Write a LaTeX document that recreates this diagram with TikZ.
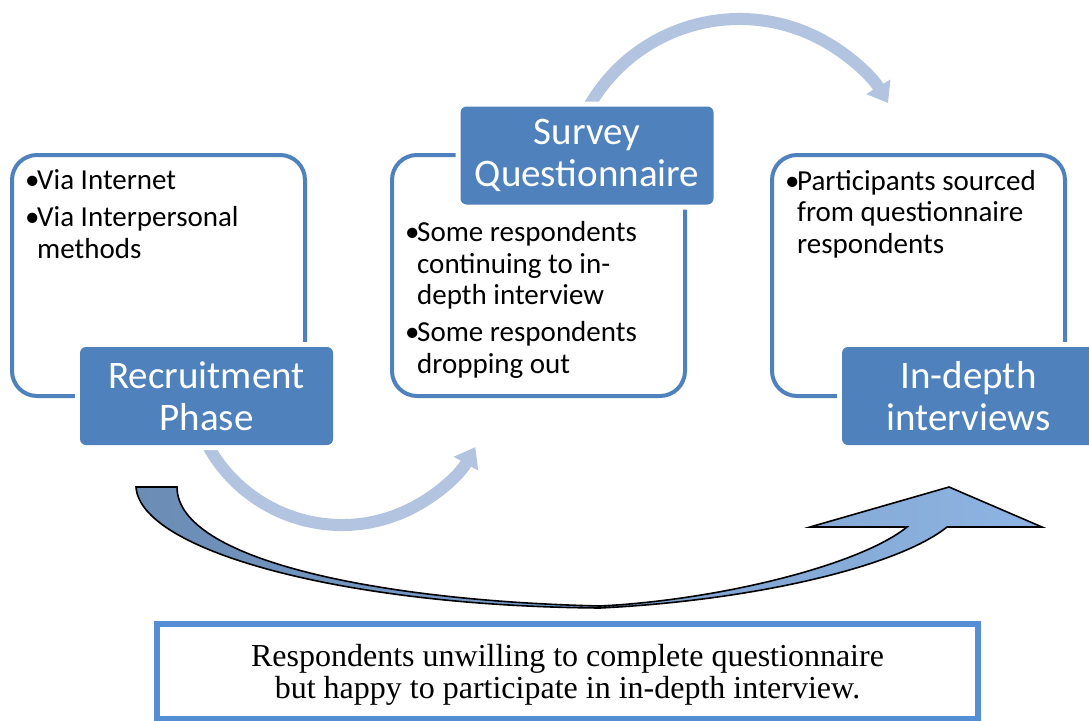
\documentclass[tikz,border=0pt]{standalone}
\usepackage{fontspec}
\setmainfont{Carlito}
\newfontfamily\serifbody{Liberation Serif}
\usetikzlibrary{arrows.meta,calc}

\definecolor{phaseblue}{RGB}{79,129,189}
\definecolor{flowblue}{RGB}{178,196,223}
\definecolor{noteblue}{RGB}{85,142,213}
\definecolor{swoopdark}{RGB}{106,140,181}
\definecolor{swooplight}{RGB}{142,180,227}

\newcommand{\bulmark}{\makebox[12pt][l]{•}}
\newcommand{\bulindent}{\hspace*{12pt}}

\tikzset{
  outlinebox/.style={draw=phaseblue, line width=4pt, rounded corners=25pt},
  phaselabel/.style={fill=phaseblue, rounded corners=6pt, inner sep=0pt,
    minimum width=253pt, minimum height=98pt, text=white, align=center,
    font=\fontsize{39}{42}\selectfont,
    preaction={draw=white, line width=10pt}},
  % anchored on the baseline of the last line
  bodytext/.style={align=left, inner sep=0pt, anchor=base west,
    font=\fontsize{29}{31.5}\selectfont},
  flowarrow/.style={draw=flowblue, line width=12pt,
    -{Triangle[length=19pt,width=27pt]}},
  swoop/.style={draw=black, line width=1.6pt, line join=miter,
    left color=swoopdark, right color=swooplight, shading angle=90},
  notebox/.style={draw=noteblue, line width=6pt, fill=white, inner sep=0pt,
    minimum width=821pt, minimum height=95pt, align=center,
    font=\serifbody\fontsize{32}{32.5}\selectfont}
}

\begin{document}
\begin{tikzpicture}[x=1pt,y=-1pt]
\useasboundingbox (0,0) rectangle (1089,720);

% curved flow arrows between the phases
\coordinate (lowcenter) at (342,372);
\coordinate (highcenter) at (739.5,192.3);
\draw[flowarrow] ($(lowcenter)+(155:153)$) arc[start angle=155, end angle=29.4, radius=153];
\draw[flowarrow] ($(highcenter)+(208:173.3)$) arc[start angle=208, end angle=329, radius=173.3];

% long swooping arrow from recruitment to interviews
\path[swoop] (136,487) -- (177,487)
  .. controls (177,560) and (380,601) .. (600,606)
  .. controls (720,600) and (860,565) .. (907,527)
  -- (810,527) -- (949,487) -- (1042,527) -- (947,527)
  .. controls (900,565) and (760,600) .. (600,608)
  .. controls (340,606) and (140,550) .. (136,487) -- cycle;

% rounded outline boxes
\draw[outlinebox] (12,155) rectangle (305,396);
\draw[outlinebox] (392,155) rectangle (685,396);
\draw[outlinebox] (772,155) rectangle (1065,396);

% phase labels
\node[phaselabel] (recruit) at (206.5,396) {Recruitment\\Phase};
\node[phaselabel] (survey) at (587,155.5) {Survey\\Questionnaire};
\node[phaselabel] (interview) at (968.5,396) {In-depth\\interviews};

% bullet texts
\node[bodytext] (recruittext) at (25,258)
  {\bulmark Via Internet\\[5.5pt]\bulmark Via Interpersonal\\\bulindent methods};
\node[bodytext] (surveytext) at (405,373)
  {\bulmark Some respondents\\\bulindent continuing to in-\\\bulindent depth interview\\[5.5pt]\bulmark Some respondents\\\bulindent dropping out};
\node[bodytext] (interviewtext) at (785,253)
  {\bulmark Participants sourced\\\bulindent from questionnaire\\\bulindent respondents};

% note box (the strut lowers the two lines a little inside the frame)
\node[notebox] (note) at (567.5,671.5)
  {\rule{0pt}{29pt}Respondents unwilling to complete questionnaire\\but happy to participate in in-depth interview.};
\end{tikzpicture}
\end{document}
